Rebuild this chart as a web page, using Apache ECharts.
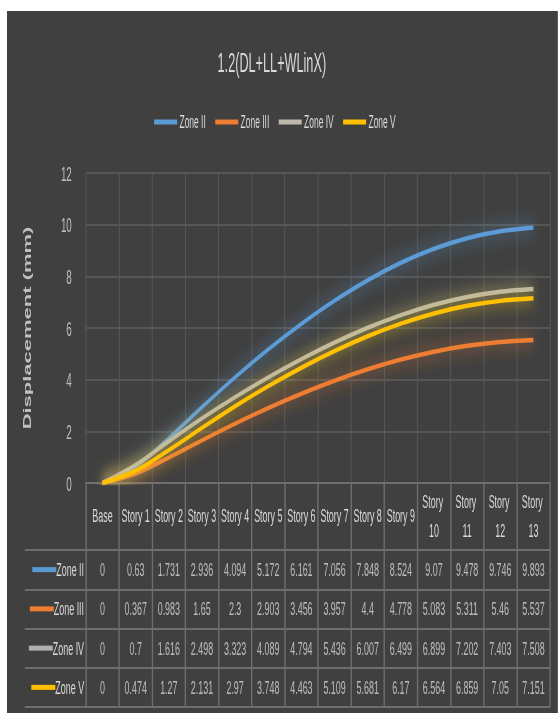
<!DOCTYPE html>
<html>
<head>
<meta charset="utf-8">
<script src="https://cdn.jsdelivr.net/npm/echarts@6/dist/echarts.min.js"></script>
<style>
  html, body { margin: 0; padding: 0; background: #ffffff; width: 558px; height: 713px; overflow: hidden; }
  #chart { position: absolute; left: 7px; top: 11px; height: 702px; transform-origin: 0 0; }
</style>
</head>
<body>
<div id="chart"></div>
<script>
// Storey labels along the x axis (also the header row of the data table)
const categories = ['Base', 'Story 1', 'Story 2', 'Story 3', 'Story 4', 'Story 5', 'Story 6',
  'Story 7', 'Story 8', 'Story 9', 'Story 10', 'Story 11', 'Story 12', 'Story 13'];

// Storey displacement (mm) per seismic zone
const zoneII  = [0, 0.63, 1.731, 2.936, 4.094, 5.172, 6.161, 7.056, 7.848, 8.524, 9.07, 9.478, 9.746, 9.893];
const zoneIII = [0, 0.367, 0.983, 1.65, 2.3, 2.903, 3.456, 3.957, 4.4, 4.778, 5.083, 5.311, 5.46, 5.537];
const zoneIV  = [0, 0.7, 1.616, 2.498, 3.323, 4.089, 4.794, 5.436, 6.007, 6.499, 6.899, 7.202, 7.403, 7.508];
const zoneV   = [0, 0.474, 1.27, 2.131, 2.97, 3.748, 4.463, 5.109, 5.681, 6.17, 6.564, 6.859, 7.05, 7.151];

const zoneNames = ['Zone II', 'Zone III', 'Zone IV', 'Zone V'];
const zoneValues = [zoneII, zoneIII, zoneIV, zoneV];

// Value axis ticks
const yMin = 0, yMax = 12, yStep = 2;

// ---- styling ----
const lineColors = ['#5b9bd5', '#ed7d31', '#bcb9ab', '#ffc000'];
const iconColors = ['#5b9bd5', '#ed7d31', '#b0b0b0', '#ffc000'];
const glowColors = ['rgba(91,155,213,0.8)', 'rgba(237,125,49,0.8)', 'rgba(215,210,150,0.8)', 'rgba(255,200,0,0.8)'];
const FONT = '"Liberation Sans", Arial, sans-serif';
const TEXT = '#d9d9d9';
const RULE = '#6e6e6e';

// The whole chart is drawn wide and condensed horizontally, giving narrow lettering.
const SX = 0.47;
const W = 551 / SX;
const el = document.getElementById('chart');
el.style.width = W + 'px';
el.style.transform = 'scaleX(' + SX + ')';

const chart = echarts.init(el, null, { renderer: 'svg', width: W, height: 702 });

const plotLeft = 168, plotRight = 17, legendCol = 130;

const lineSeries = zoneNames.map((name, i) => ({
  name: name,
  type: 'line',
  xAxisIndex: 0,
  yAxisIndex: 0,
  data: zoneValues[i],
  smooth: 0.35,
  symbol: 'none',
  color: lineColors[i],
  lineStyle: {
    width: 4.5,
    color: lineColors[i],
    shadowBlur: 18,
    shadowColor: glowColors[i]
  },
  z: 3
}));

// Table body: one text cell per storey and zone
const cellData = [];
zoneValues.forEach((vals, r) => {
  vals.forEach((v, c) => cellData.push([c, r, v]));
});

const richIcons = {};
iconColors.forEach((c, i) => {
  richIcons['i' + i] = { backgroundColor: c, width: 51, height: 5 };
});
richIcons.t = { color: TEXT, fontSize: 19, fontFamily: FONT };

const option = {
  backgroundColor: '#404040',
  animation: false,
  title: {
    text: '1.2(DL+LL+WLinX)',
    left: 443,
    top: 33,
    textStyle: { color: TEXT, fontSize: 27, fontWeight: 'normal', fontFamily: FONT }
  },
  legend: {
    data: zoneNames,
    left: 308,
    top: 97,
    icon: 'rect',
    itemWidth: 49,
    itemHeight: 5,
    itemGap: 20,
    textStyle: { color: TEXT, fontSize: 18, fontFamily: FONT }
  },
  grid: [
    { left: plotLeft, right: plotRight, top: 162, height: 310 },
    { left: plotLeft, right: plotRight, top: 539, height: 157 }
  ],
  xAxis: [
    {
      gridIndex: 0,
      type: 'category',
      data: categories,
      boundaryGap: true,
      axisLine: { show: true, lineStyle: { color: RULE, width: 2 } },
      axisTick: { show: true, length: 67, lineStyle: { color: RULE, width: 3 } },
      axisLabel: {
        color: TEXT, fontSize: 19, fontFamily: FONT,
        margin: 33, verticalAlign: 'middle', lineHeight: 29,
        width: 66, overflow: 'break', interval: 0
      },
      splitLine: { show: true, lineStyle: { color: '#595959', width: 2 } }
    },
    {
      gridIndex: 1,
      type: 'category',
      data: categories,
      boundaryGap: true,
      axisLine: { show: false },
      axisTick: { show: false },
      axisLabel: { show: false },
      splitLine: { show: true, lineStyle: { color: RULE, width: 3 } }
    }
  ],
  yAxis: [
    {
      gridIndex: 0,
      type: 'value',
      min: yMin, max: yMax, interval: yStep,
      name: 'Displacement (mm)',
      nameLocation: 'middle',
      nameGap: 113,
      nameRotate: 90,
      nameTextStyle: { color: '#bfbfbf', fontSize: 22, fontWeight: 'bold', fontFamily: FONT },
      axisLine: { show: false },
      axisTick: { show: false },
      axisLabel: { color: '#bfbfbf', fontSize: 21, fontFamily: FONT, margin: 30 },
      splitLine: { show: true, lineStyle: { color: '#5e5e5e', width: 1.5 } }
    },
    {
      gridIndex: 1,
      type: 'category',
      data: zoneNames,
      inverse: true,
      boundaryGap: true,
      axisLine: { show: false },
      axisTick: { show: true, length: legendCol, lineStyle: { color: RULE, width: 2 } },
      axisLabel: {
        margin: 4,
        formatter: (v, i) => '{i' + i + '|}{t|' + v + '}',
        rich: richIcons
      },
      splitLine: { show: true, lineStyle: { color: RULE, width: 2 } }
    },
    {
      // left border of the table's legend column
      gridIndex: 1,
      type: 'category',
      data: zoneNames,
      inverse: true,
      offset: legendCol,
      axisLine: { show: true, lineStyle: { color: RULE, width: 3 } },
      axisTick: { show: false },
      axisLabel: { show: false },
      splitLine: { show: false }
    }
  ],
  series: lineSeries.concat([{
    name: 'table',
    type: 'scatter',
    xAxisIndex: 1,
    yAxisIndex: 1,
    data: cellData,
    symbolSize: 1,
    itemStyle: { color: 'rgba(0,0,0,0)' },
    silent: true,
    label: {
      show: true,
      position: 'inside',
      formatter: p => String(p.value[2]),
      color: TEXT,
      fontSize: 19,
      fontFamily: FONT
    }
  }])
};

chart.setOption(option);
</script>
</body>
</html>
